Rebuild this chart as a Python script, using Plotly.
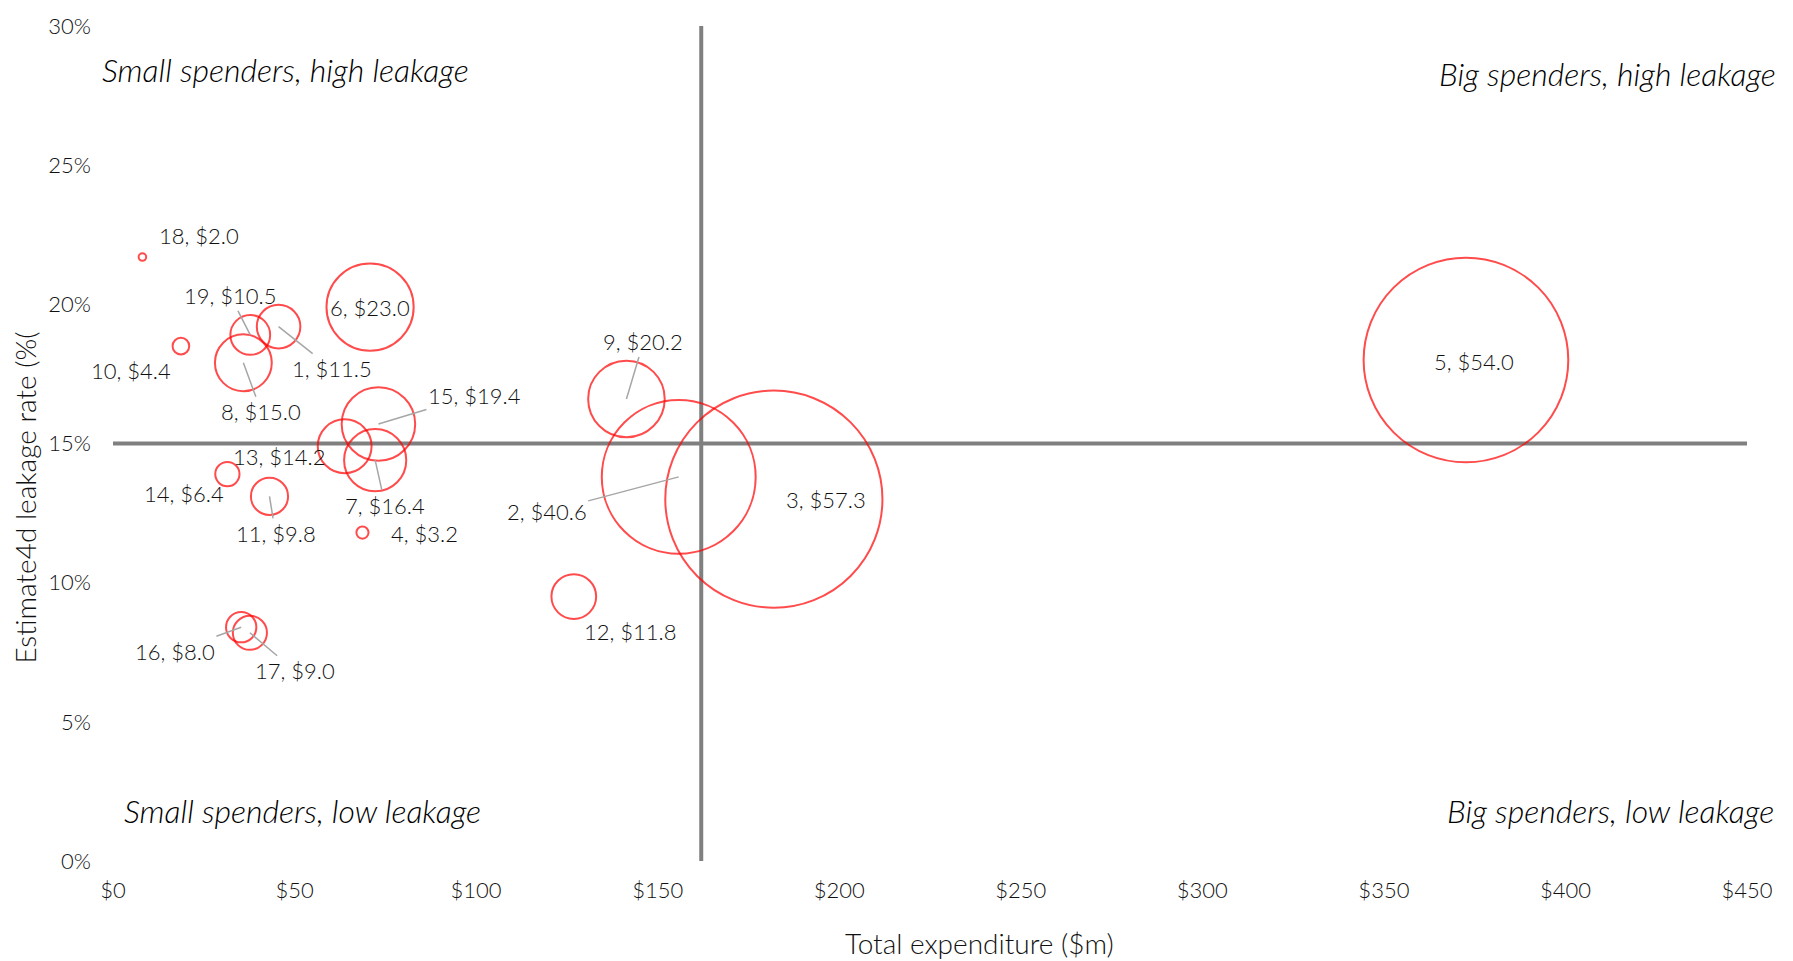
import plotly.graph_objects as go

# Programme data: id, total expenditure ($m), estimated leakage rate, leakage value ($m)
program_ids = [1, 2, 3, 4, 5, 6, 7, 8, 9, 10, 11, 12, 13, 14, 15, 16, 17, 18, 19]
expenditure = [45.6, 155.8, 182.0, 68.7, 372.6, 70.8, 72.2, 35.9, 141.4, 18.7,
               43.1, 126.9, 63.8, 31.5, 73.1, 35.3, 37.7, 8.1, 37.8]
leakage_rate = [0.192, 0.138, 0.130, 0.118, 0.180, 0.199, 0.144, 0.179, 0.166, 0.185,
                0.131, 0.095, 0.149, 0.139, 0.157, 0.084, 0.082, 0.217, 0.189]
leakage_value = [11.5, 40.6, 57.3, 3.2, 54.0, 23.0, 16.4, 15.0, 20.2, 4.4,
                 9.8, 11.8, 14.2, 6.4, 19.4, 8.0, 9.0, 2.0, 10.5]

x_ticks = [0, 50, 100, 150, 200, 250, 300, 350, 400, 450]
x_tick_labels = ["$0", "$50", "$100", "$150", "$200", "$250", "$300", "$350", "$400", "$450"]
y_ticks = [0, 0.05, 0.10, 0.15, 0.20, 0.25, 0.30]

SPEND_THRESHOLD = 162
LEAKAGE_THRESHOLD = 0.15

quadrant_labels = [
    "Small spenders, high leakage",
    "Big spenders, high leakage",
    "Small spenders, low leakage",
    "Big spenders, low leakage",
]

# Label placement (pixel offsets from bubble centre) and whether a leader line is drawn
label_offsets = {
    1: (53, 42, True), 2: (-132, 35, True), 3: (52, 0, False), 4: (62, 1, False),
    5: (8, 1, False), 6: (0, 0, False), 7: (10, 45, True), 8: (18, 49, True),
    9: (17, -57, True), 10: (-50, 24, False), 11: (6, 37, True), 12: (57, 35, False),
    13: (-65, 10, False), 14: (-43, 19, False), 15: (96, -29, True), 16: (-66, 24, True),
    17: (45, 38, True), 18: (57, -22, False), 19: (-20, -39, True),
}

FONT = "Lato"
TEXT_COLOR = "#111111"

# Plot-area geometry (pixels) used to place paper-referenced captions
M_L, M_R, M_T, M_B = 113, 46, 20, 100
W, H = 1793, 961
PW, PH = W - M_L - M_R, H - M_T - M_B


def px_to_paper(px, py):
    return (px - M_L) / PW, (H - M_B - py) / PH


fig = go.Figure()

# Quadrant divider lines
fig.add_shape(type="line", x0=0, x1=450, y0=LEAKAGE_THRESHOLD, y1=LEAKAGE_THRESHOLD,
              xref="x", yref="y", line=dict(color="#808080", width=4), layer="below")
fig.add_shape(type="line", x0=SPEND_THRESHOLD, x1=SPEND_THRESHOLD, y0=0, y1=0.30,
              xref="x", yref="y", line=dict(color="#808080", width=4), layer="below")

fig.add_trace(go.Scatter(
    x=expenditure,
    y=leakage_rate,
    mode="markers",
    marker=dict(
        size=leakage_value,
        sizemode="diameter",
        sizeref=1 / 3.79,
        color="rgba(0,0,0,0)",
        line=dict(color="#FF0000", width=2),
    ),
    cliponaxis=False,
    hoverinfo="skip",
    showlegend=False,
))

label_font = dict(family=FONT, size=22, color=TEXT_COLOR, weight=300)

annotations = []
for pid, xv, yv, val in zip(program_ids, expenditure, leakage_rate, leakage_value):
    dx, dy, leader = label_offsets[pid]
    text = f"{pid}, ${val:.1f}"
    if leader:
        annotations.append(dict(
            x=xv, y=yv, xref="x", yref="y", text=text,
            showarrow=True, ax=dx, ay=dy, arrowhead=0, arrowwidth=1.5,
            arrowcolor="#A6A6A6", standoff=0, font=label_font,
        ))
    else:
        annotations.append(dict(
            x=xv, y=yv, xref="x", yref="y", text=text, showarrow=False,
            xshift=dx, yshift=-dy, font=label_font,
        ))

# Quadrant captions
quad_font = dict(family=FONT, size=32, color="#000000", style="italic", weight=300)
quad_specs = [
    (100, 64, "left"),
    (1778, 68, "right"),
    (122, 810, "left"),
    (1776, 810, "right"),
]
for text, (px, py, anchor) in zip(quadrant_labels, quad_specs):
    qx, qy = px_to_paper(px, py)
    annotations.append(dict(x=qx, y=qy, xref="paper", yref="paper", xanchor=anchor,
                            yanchor="middle", text=text, showarrow=False, font=quad_font))

# Axis titles
title_font = dict(family=FONT, size=28, color=TEXT_COLOR, weight=300)
tx, ty = px_to_paper(980, 944)
annotations.append(dict(x=tx, y=ty, xref="paper", yref="paper",
                        text="Total expenditure ($m)", showarrow=False,
                        xanchor="center", yanchor="middle", font=title_font))
tx, ty = px_to_paper(25, 495)
annotations.append(dict(x=tx, y=ty, xref="paper", yref="paper",
                        text="Estimate4d leakage rate (%(", showarrow=False, textangle=-90,
                        xanchor="center", yanchor="middle", font=title_font))

fig.update_layout(
    width=W,
    height=H,
    margin=dict(l=M_L, r=M_R, t=M_T, b=M_B),
    paper_bgcolor="white",
    plot_bgcolor="white",
    annotations=annotations,
    font=dict(family=FONT, color=TEXT_COLOR),
    xaxis=dict(
        range=[0, 450], tickvals=x_ticks, ticktext=x_tick_labels, showgrid=False,
        zeroline=False, showline=False, ticks="", ticklabelstandoff=14,
        tickfont=dict(family=FONT, size=22, color=TEXT_COLOR, weight=300),
    ),
    yaxis=dict(
        range=[0, 0.30], tickvals=y_ticks, tickformat=".0%", showgrid=False,
        zeroline=False, showline=False, ticks="", ticklabelstandoff=21,
        tickfont=dict(family=FONT, size=22, color=TEXT_COLOR, weight=300),
    ),
)

fig.write_html("out.html")
